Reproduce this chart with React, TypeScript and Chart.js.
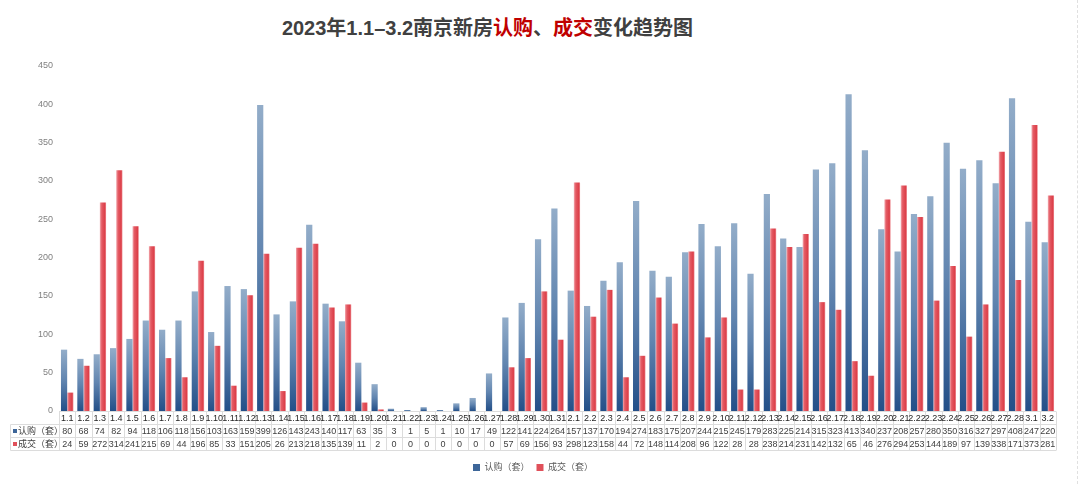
import { useEffect, useRef } from "react";
import { Chart, registerables } from "chart.js";

Chart.register(...registerables);

const categories = [
  "1.1", "1.2", "1.3", "1.4", "1.5", "1.6", "1.7", "1.8", "1.9", "1.10",
  "1.11", "1.12", "1.13", "1.14", "1.15", "1.16", "1.17", "1.18", "1.19", "1.20",
  "1.21", "1.22", "1.23", "1.24", "1.25", "1.26", "1.27", "1.28", "1.29", "1.30",
  "1.31", "2.1", "2.2", "2.3", "2.4", "2.5", "2.6", "2.7", "2.8", "2.9",
  "2.10", "2.11", "2.12", "2.13", "2.14", "2.15", "2.16", "2.17", "2.18", "2.19",
  "2.20", "2.21", "2.22", "2.23", "2.24", "2.25", "2.26", "2.27", "2.28", "3.1",
  "3.2",
];

// 认购（套）
const subscribed = [
  80, 68, 74, 82, 94, 118, 106, 118, 156, 103,
  163, 159, 399, 126, 143, 243, 140, 117, 63, 35,
  3, 1, 5, 1, 10, 17, 49, 122, 141, 224,
  264, 157, 137, 170, 194, 274, 183, 175, 207, 244,
  215, 245, 179, 283, 225, 214, 315, 323, 413, 340,
  237, 208, 257, 280, 350, 316, 327, 297, 408, 247,
  220,
];

// 成交（套）
const closed = [
  24, 59, 272, 314, 241, 215, 69, 44, 196, 85,
  33, 151, 205, 26, 213, 218, 135, 139, 11, 2,
  0, 0, 0, 0, 0, 0, 0, 57, 69, 156,
  93, 298, 123, 158, 44, 72, 148, 114, 208, 96,
  122, 28, 28, 238, 214, 231, 142, 132, 65, 46,
  276, 294, 253, 144, 189, 97, 139, 338, 171, 373,
  281,
];

const seriesNames = ["认购（套）", "成交（套）"];
const legendColors = ["#3d6699", "#e0505a"];
const yTicks = { min: 0, max: 450, step: 50 };

const CAT_PCT = 0.76;
const FONT = '"Liberation Sans", "Noto Sans CJK SC", sans-serif';

// blue: light at the top of each bar, dark at its base
const blueFill = (c: any) => {
  const chart = c.chart;
  const xs = chart.scales?.x;
  const ys = chart.scales?.y;
  if (c.type !== "data" || !xs || !ys || !chart.chartArea) return legendColors[0];
  const top = ys.getPixelForValue(c.raw);
  const base = ys.getPixelForValue(0);
  if (base - top < 1) return "#2b5a91";
  const g = chart.ctx.createLinearGradient(0, top, 0, base);
  g.addColorStop(0, "#93adc9");
  g.addColorStop(0.5, "#6185b0");
  g.addColorStop(1, "#234f88");
  return g;
};

// red: pink left edge, red body, lighter right edge
const redFill = (c: any) => {
  const chart = c.chart;
  const xs = chart.scales?.x;
  if (c.type !== "data" || !xs || !chart.chartArea) return legendColors[1];
  const cw = (xs.right - xs.left) / categories.length;
  const bw = (cw * CAT_PCT) / 2;
  const left = xs.getPixelForValue(c.dataIndex);
  const g = chart.ctx.createLinearGradient(left, 0, left + bw, 0);
  g.addColorStop(0, "#f2aab0");
  g.addColorStop(0.3, "#e45c65");
  g.addColorStop(0.8, "#dc3f49");
  g.addColorStop(1, "#ee9096");
  return g;
};

const tablePlugin = {
  id: "dataTable",
  afterDraw(chart: any) {
    const { ctx, chartArea } = chart;
    const xs = chart.scales.x;
    const n = categories.length;
    const cw = (xs.right - xs.left) / n;
    const top = Math.round(chartArea.bottom) + 0.5;
    const rh = 13;
    const headL = 10.5;
    const right = xs.right;

    ctx.save();
    ctx.strokeStyle = "#dcdcdc";
    ctx.lineWidth = 1;
    ctx.beginPath();
    ctx.moveTo(xs.left, top);
    ctx.lineTo(right, top);
    for (let r = 1; r <= 3; r++) {
      ctx.moveTo(headL, top + r * rh);
      ctx.lineTo(right, top + r * rh);
    }
    for (let i = 0; i <= n; i++) {
      const x = Math.round(xs.left + i * cw) + 0.5;
      ctx.moveTo(x, top);
      ctx.lineTo(x, top + 3 * rh);
    }
    ctx.moveTo(headL, top + rh);
    ctx.lineTo(headL, top + 3 * rh);
    ctx.stroke();

    ctx.textAlign = "center";
    ctx.textBaseline = "middle";
    const rows = [categories, subscribed, closed];
    rows.forEach((row, r) => {
      ctx.font = `9px ${FONT}`;
      ctx.fillStyle = r === 0 ? "#262626" : "#404040";
      row.forEach((v, i) => {
        ctx.fillText(String(v), xs.getPixelForValue(i), top + r * rh + rh / 2 + 0.5);
      });
    });

    // row headers
    ctx.textAlign = "left";
    ctx.font = `9px ${FONT}`;
    seriesNames.forEach((name, k) => {
      const cy = top + (k + 1) * rh + rh / 2;
      ctx.fillStyle = legendColors[k];
      ctx.fillRect(13, cy - 2, 4, 4);
      ctx.fillStyle = "#404040";
      ctx.fillText(name, 18, cy + 0.5);
    });
    ctx.restore();
  },
};

const BarTable = () => {
  const canvasRef = useRef<HTMLCanvasElement | null>(null);

  useEffect(() => {
    const chart = new Chart(canvasRef.current!, {
      type: "bar",
      data: {
        labels: categories,
        datasets: [
          {
            label: seriesNames[0],
            data: subscribed,
            backgroundColor: blueFill,
            borderWidth: 0,
            categoryPercentage: CAT_PCT,
            barPercentage: 1,
          },
          {
            label: seriesNames[1],
            data: closed,
            backgroundColor: redFill,
            borderWidth: 0,
            categoryPercentage: CAT_PCT,
            barPercentage: 1,
          },
        ],
      },
      options: {
        animation: false,
        responsive: true,
        maintainAspectRatio: false,
        layout: { padding: { top: 66, left: 10, right: 24, bottom: 2 } },
        plugins: {
          title: { display: false },
          tooltip: { enabled: false },
          legend: {
            position: "bottom",
            labels: {
              boxWidth: 7,
              boxHeight: 7,
              padding: 7,
              color: "#595959",
              font: { family: FONT, size: 9 },
              generateLabels: (c: any) =>
                c.data.datasets.map((d: any, i: number) => ({
                  text: d.label,
                  fillStyle: legendColors[i],
                  strokeStyle: legendColors[i],
                  lineWidth: 0,
                  hidden: false,
                  datasetIndex: i,
                  fontColor: "#595959",
                })),
            },
          },
        },
        scales: {
          x: {
            grid: { display: false },
            border: { display: false },
            ticks: { display: false },
            afterFit: (s: any) => {
              s.height = 45;
            },
          },
          y: {
            min: yTicks.min,
            max: yTicks.max,
            grid: { display: false, drawTicks: false },
            border: { display: false },
            ticks: {
              stepSize: yTicks.step,
              padding: 6,
              color: "#808080",
              font: { family: FONT, size: 9 },
            },
            afterFit: (s: any) => {
              s.width = 49;
            },
          },
        },
      },
      plugins: [tablePlugin],
    });

    return () => {
      chart.destroy();
    };
  }, []);

  return (
    <div
      style={{
        position: "fixed",
        left: 0,
        top: 0,
        width: 1080,
        height: 484,
        background: "#fff",
        overflow: "hidden",
      }}
    >
      <div
        style={{
          position: "absolute",
          left: 0,
          top: 14,
          width: 975,
          textAlign: "center",
          fontFamily: FONT,
          fontWeight: "bold",
          fontSize: 20,
          lineHeight: "28px",
          color: "#404040",
        }}
      >
        2023年1.1–3.2南京新房<span style={{ color: "#c00000" }}>认购</span>、
        <span style={{ color: "#c00000" }}>成交</span>变化趋势图
      </div>
      <div
        style={{
          position: "absolute",
          left: 1077,
          top: 0,
          width: 0,
          height: 484,
          borderLeft: "1px dashed #e0e0e0",
        }}
      />
      <div style={{ position: "absolute", left: 0, top: 0, width: 1080, height: 484 }}>
        <canvas ref={canvasRef} />
      </div>
    </div>
  );
};

export default function App() {
  return <BarTable />;
}
